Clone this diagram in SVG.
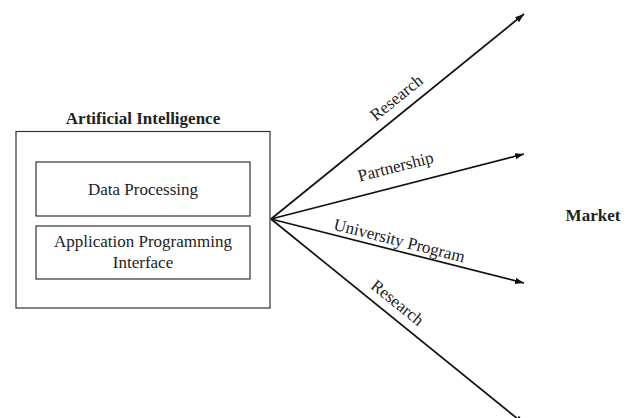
<svg xmlns="http://www.w3.org/2000/svg" width="632" height="418" viewBox="0 0 632 418">
<style>
.box{fill:#fff;stroke:#333;stroke-width:1.2}
.t{font-family:"Liberation Serif","Times New Roman",serif;font-size:17px;fill:#222;text-anchor:middle}
.b{font-weight:bold}
.c{stroke:#111;stroke-width:1.7;fill:none}
</style>
<defs>
<marker id="ah" markerWidth="10" markerHeight="8" refX="9" refY="4" orient="auto" markerUnits="userSpaceOnUse">
<path d="M0,0.8 L9,4 L0,7.2 Z" fill="#111"/>
</marker>
</defs>
<rect width="632" height="418" fill="#fff"/>
<g id="ai">
<text class="t b" x="143" y="124">Artificial Intelligence</text>
<rect class="box" x="16" y="131.5" width="254" height="176.5"/>
</g>
<g id="data-processing">
<rect class="box" x="36" y="162" width="214" height="54"/>
<text class="t" x="143" y="195">Data Processing</text>
</g>
<g id="api">
<rect class="box" x="36" y="226" width="214" height="53"/>
<text class="t" x="143" y="247">Application Programming</text>
<text class="t" x="143" y="268">Interface</text>
</g>
<g id="market">
<text class="t b" x="593" y="221">Market</text>
</g>
<g id="connectors">
<line class="c" x1="271" y1="219" x2="524" y2="14" marker-end="url(#ah)"/>
<line class="c" x1="271" y1="219" x2="524" y2="154" marker-end="url(#ah)"/>
<line class="c" x1="271" y1="219" x2="524" y2="283" marker-end="url(#ah)"/>
<line class="c" x1="271" y1="219" x2="524" y2="424" marker-end="url(#ah)"/>
<text class="t" transform="translate(400,102) rotate(-39)">Research</text>
<text class="t" transform="translate(397,172) rotate(-14.4)">Partnership</text>
<text class="t" transform="translate(398,246) rotate(14.2)">University Program</text>
<text class="t" transform="translate(394,307) rotate(39)">Research</text>
</g>
</svg>
